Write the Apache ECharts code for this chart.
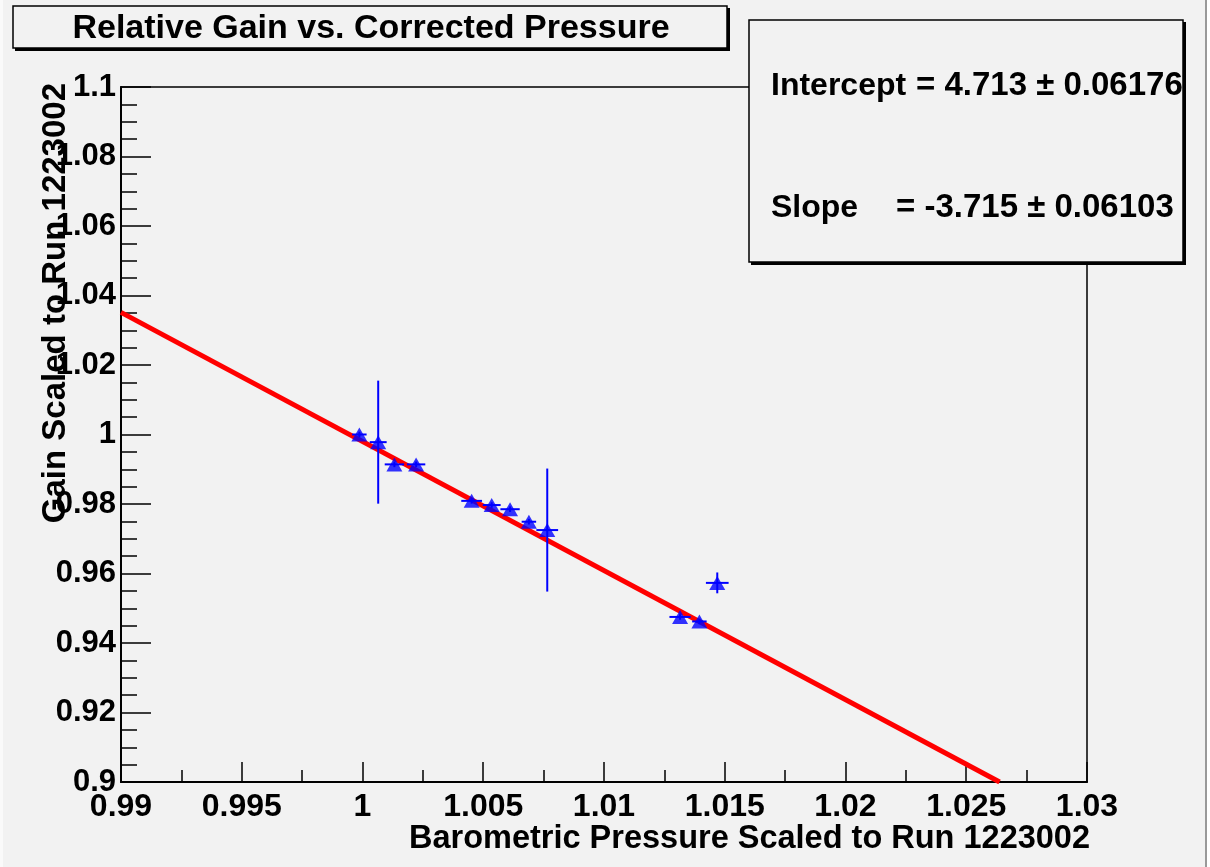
<!DOCTYPE html>
<html>
<head>
<meta charset="utf-8">
<script src="https://cdn.jsdelivr.net/npm/echarts@6/dist/echarts.min.js"></script>
<style>
html,body{margin:0;padding:0;background:#ffffff;}
#chart{width:1210px;height:867px;}
</style>
</head>
<body>
<div id="chart"></div>
<script>
// ---- data ----
var pressure = [0.99987, 1.00065, 1.00132, 1.00222, 1.00452, 1.00535, 1.00611, 1.00689, 1.00765, 1.01315, 1.01395, 1.01469];
var gain     = [1.0000, 0.9978, 0.9914, 0.9914, 0.9809, 0.9797, 0.9785, 0.9749, 0.9725, 0.9475, 0.9462, 0.9573];
var pressureErr = [0.0003, 0.00035, 0.0004, 0.00038, 0.00043, 0.00037, 0.0004, 0.0003, 0.00045, 0.00044, 0.0003, 0.00047];
var gainErr     = [0.0008, 0.0177, 0.0008, 0.0008, 0.0008, 0.0008, 0.0008, 0.0008, 0.0177, 0.0008, 0.0008, 0.003];
var fitLine = [[0.99, 1.03515], [1.02638, 0.9]];
var titleText = 'Relative Gain vs. Corrected Pressure';
var xTitle = 'Barometric Pressure Scaled to Run 1223002';
var yTitle = 'Gain Scaled to Run 1223002';
var statLabels = ['Intercept', 'Slope'];
var statValues = ['= 4.713 \u00b1 0.06176', '= -3.715 \u00b1 0.06103'];

var FONT = '"Liberation Sans", Arial, Helvetica, sans-serif';

var points = pressure.map(function (p, i) { return [p, gain[i]]; });
var errData = pressure.map(function (p, i) { return [p, gain[i], pressureErr[i], gainErr[i]]; });

function fmt(v) { return String(parseFloat(v.toFixed(4))); }

var chart = echarts.init(document.getElementById('chart'), null, {renderer: 'canvas'});
chart.setOption({
  backgroundColor: '#f2f2f2',
  animation: false,
  grid: {
    left: 121, right: 123, top: 87, bottom: 85,
    show: true, borderColor: '#000', borderWidth: 1.5, backgroundColor: 'transparent'
  },
  xAxis: {
    type: 'value', min: 0.99, max: 1.03, interval: 0.005,
    axisLine: {show: true, lineStyle: {color: '#000', width: 2}},
    axisTick: {show: true, inside: true, length: 20, lineStyle: {color: '#000', width: 1.5}},
    minorTick: {show: true, splitNumber: 2, length: 12, lineStyle: {color: '#000', width: 1.5}},
    splitLine: {show: false},
    axisLabel: {
      color: '#000', fontFamily: FONT, fontWeight: 'bold', fontSize: 32, margin: 9,
      formatter: fmt
    }
  },
  yAxis: {
    type: 'value', min: 0.9, max: 1.1, interval: 0.02,
    axisLine: {show: true, lineStyle: {color: '#000', width: 2}},
    axisTick: {show: true, inside: true, length: 30, lineStyle: {color: '#000', width: 1.5}},
    minorTick: {show: true, splitNumber: 4, length: 16, lineStyle: {color: '#000', width: 1.5}},
    splitLine: {show: false},
    axisLabel: {
      color: '#000', fontFamily: FONT, fontWeight: 'bold', fontSize: 31, margin: 5,
      padding: [8, 0, 0, 0],
      formatter: fmt
    }
  },
  series: [
    {
      type: 'line', data: fitLine, showSymbol: false, symbol: 'none',
      lineStyle: {color: '#ff0000', width: 5}, z: 2, silent: true
    },
    {
      type: 'custom', data: errData, z: 3, silent: true,
      renderItem: function (params, api) {
        var x = api.value(0), y = api.value(1), ex = api.value(2), ey = api.value(3);
        var l = api.coord([x - ex, y]), r = api.coord([x + ex, y]);
        var t = api.coord([x, y + ey]), b = api.coord([x, y - ey]);
        var st = {stroke: '#0000ff', lineWidth: 2};
        return {
          type: 'group',
          children: [
            {type: 'line', shape: {x1: l[0], y1: l[1], x2: r[0], y2: r[1]}, style: st},
            {type: 'line', shape: {x1: t[0], y1: t[1], x2: b[0], y2: b[1]}, style: st}
          ]
        };
      }
    },
    {
      type: 'scatter', data: points, symbol: 'triangle', symbolSize: [16, 14],
      itemStyle: {color: '#0000ff'}, z: 4, silent: true
    }
  ],
  graphic: [
    // outer borders
    {type: 'rect', shape: {x: 1205, y: 0, width: 2, height: 867}, style: {fill: '#999'}, z: 1},
    {type: 'rect', shape: {x: 1207, y: 0, width: 3, height: 867}, style: {fill: '#ffffff'}, z: 1},
    {type: 'rect', shape: {x: 0, y: 0, width: 3, height: 867}, style: {fill: '#fafafa'}, z: 1},
    // title box shadow + box
    {type: 'rect', shape: {x: 15, y: 8, width: 715, height: 43}, style: {fill: '#000'}, z: 10},
    {type: 'rect', shape: {x: 13, y: 6, width: 714, height: 42}, style: {fill: '#f2f2f2', stroke: '#000', lineWidth: 1.5}, z: 11},
    {type: 'text', x: 371, y: 29, z: 12,
      style: {text: titleText, font: 'bold 34px ' + FONT, fill: '#000', align: 'center', verticalAlign: 'middle'}},
    // stats box shadow + box
    {type: 'rect', shape: {x: 751, y: 22, width: 435, height: 243}, style: {fill: '#000'}, z: 10},
    {type: 'rect', shape: {x: 749, y: 20, width: 434, height: 242}, style: {fill: '#f2f2f2', stroke: '#000', lineWidth: 1.5}, z: 11},
    {type: 'text', x: 771, y: 86, z: 12,
      style: {text: statLabels[0], font: 'bold 32px ' + FONT, fill: '#000', align: 'left', verticalAlign: 'middle'}},
    {type: 'text', x: 916, y: 86, z: 12,
      style: {text: statValues[0], font: 'bold 33px ' + FONT, fill: '#000', align: 'left', verticalAlign: 'middle'}},
    {type: 'text', x: 771, y: 208, z: 12,
      style: {text: statLabels[1], font: 'bold 32px ' + FONT, fill: '#000', align: 'left', verticalAlign: 'middle'}},
    {type: 'text', x: 896, y: 208, z: 12,
      style: {text: statValues[1], font: 'bold 33px ' + FONT, fill: '#000', align: 'left', verticalAlign: 'middle'}},
    // axis titles
    {type: 'text', x: 1090, y: 839, z: 12,
      style: {text: xTitle, font: 'bold 32.5px ' + FONT, fill: '#000', align: 'right', verticalAlign: 'middle'}},
    {type: 'text', x: 56, y: 83, rotation: Math.PI / 2, z: 12,
      style: {text: yTitle, font: 'bold 33px ' + FONT, fill: '#000', align: 'right', verticalAlign: 'middle'}}
  ]
});
</script>
</body>
</html>
